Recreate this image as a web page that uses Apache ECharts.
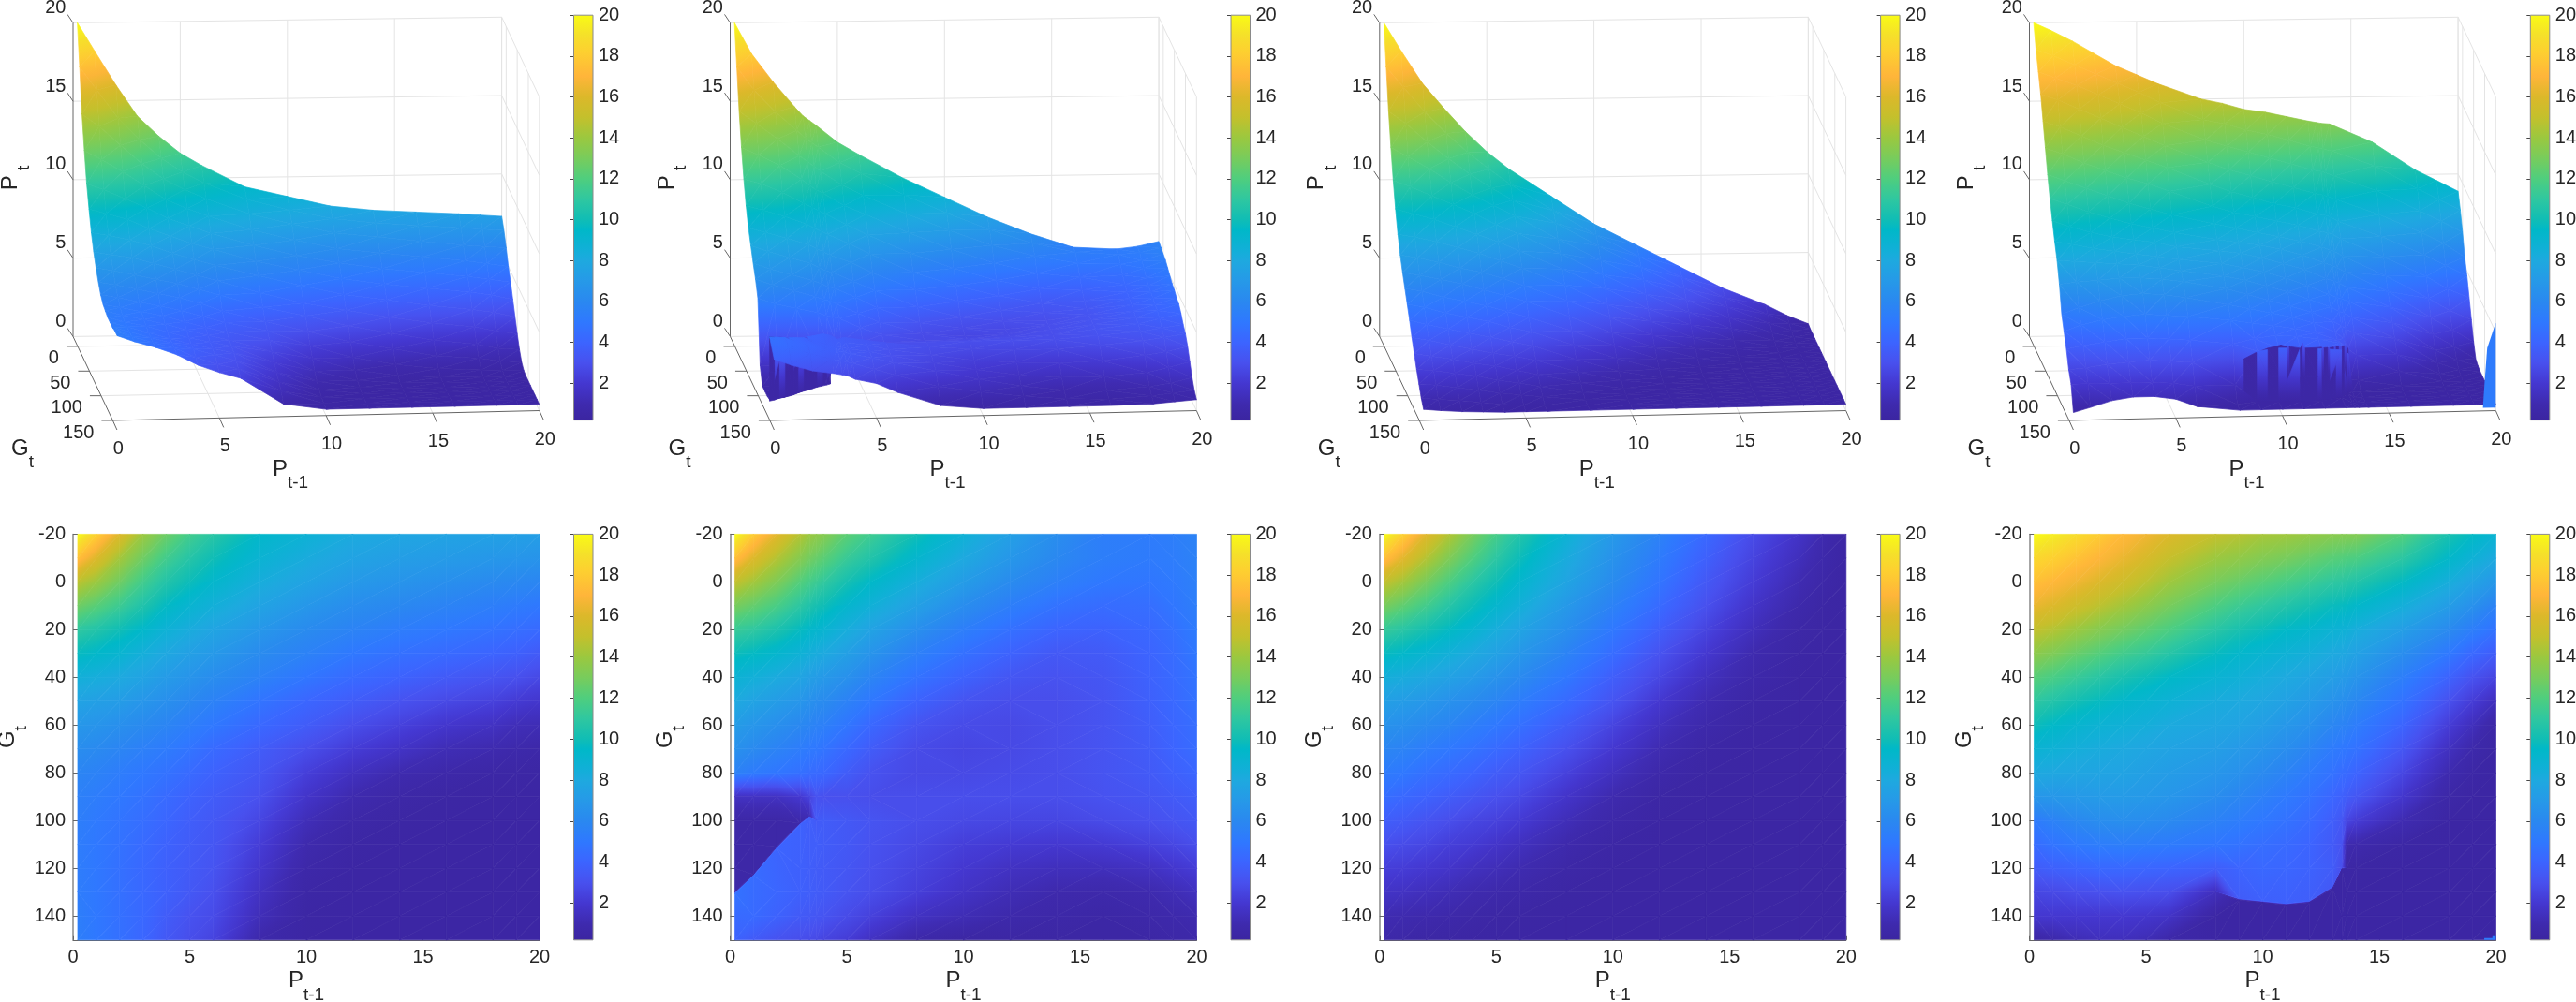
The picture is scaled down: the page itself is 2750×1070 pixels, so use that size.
<!DOCTYPE html>
<html><head><meta charset="utf-8">
<style>html,body{margin:0;padding:0;background:#fff}#c{width:2750px;height:1070px}</style>
<script src="https://cdn.jsdelivr.net/npm/echarts@6/dist/echarts.min.js"></script>
</head><body><div id="c"></div>
<script>
// ---------- colour scale: [value, colour]
const COLORMAP = [[0.2,'#3b25a0'],[1,'#3e2aae'],[2,'#4437d0'],[3,'#4850ee'],[4,'#3c64ff'],[5,'#2f78ff'],[6,'#2a88f0'],[7,'#2699e8'],[8,'#1ea9df'],[8.5,'#12afd8'],[9.5,'#00b8c8'],[10,'#10bdb5'],[11,'#2fc7a0'],[12,'#4fce7e'],[13,'#78cc5c'],[14,'#9bc83f'],[15,'#c4c02c'],[16,'#dcb82a'],[17,'#ffb53a'],[18.2,'#fdd030'],[19,'#f5e02a'],[20,'#f9fb15']];
const BAR_TICKS = [2,4,6,8,10,12,14,16,18,20];
const P_TICKS = [0,5,10,15,20];
const G_TICKS_MAP = [-20,0,20,40,60,80,100,120,140];
const G_TICKS_3D = [0,50,100,150];
const Z_TICKS = [0,5,10,15,20];
const G_ROWS = [-20,-10,0,10,20,30,40,50,60,70,80,90,100,110,120,130,140,150];

// ---------- panel A
const P_A = [0.2,1,2,3,4,5,6,8,10,12,14,16,18,19,20];
const Z_A = [
[20,18.2,16,14,12.7,11.6,10.8,9.4,8.75,8.1,7.8,7.65,7.5,7.4,7.3],
[17.5,16,14.2,12.8,11.6,10.7,10,8.9,8.2,7.6,7.3,7.1,6.9,6.8,6.7],
[14.8,14,12.8,11.6,10.6,9.9,9.3,8.3,7.6,7,6.7,6.4,6.1,6,5.9],
[12.8,12.2,11.4,10.5,9.6,9,8.5,7.6,6.9,6.3,6,5.7,5.4,5.2,5],
[11,10.6,10,9.4,8.7,8.2,7.7,6.9,6.2,5.7,5.3,5,4.7,4.5,4.3],
[9.7,9.4,9,8.4,7.9,7.4,7,6.2,5.6,5,4.6,4.3,4,3.8,3.5],
[8.5,8.3,8,7.6,7.1,6.7,6.3,5.6,4.9,4.3,3.9,3.5,3.2,3,2.7],
[7.6,7.4,7.2,6.8,6.4,6,5.6,4.8,4.1,3.6,3.1,2.7,2.4,2.1,1.9],
[6.9,6.7,6.4,6.1,5.8,5.4,5,4.2,3.6,2.9,2.4,1.9,1.6,1.3,1.2],
[6.3,6.1,5.8,5.5,5.2,4.8,4.3,3.6,2.9,2.2,1.7,1.2,1,0.8,0.7],
[5.8,5.6,5.3,5,4.7,4.3,3.9,3.3,2.3,1.5,1,0.7,0.55,0.5,0.45],
[5.5,5.3,5,4.7,4.3,3.9,3.6,3,1.8,1,0.6,0.45,0.4,0.4,0.4],
[5.4,5.1,4.8,4.5,4.1,3.7,3.4,2.6,1.3,0.65,0.45,0.4,0.4,0.4,0.4],
[5.3,5,4.7,4.3,3.9,3.6,3.3,2.2,0.95,0.5,0.4,0.4,0.4,0.4,0.4],
[5.3,5,4.6,4.2,3.8,3.5,3.2,1.9,0.7,0.42,0.4,0.4,0.4,0.4,0.4],
[5.3,5,4.6,4.2,3.8,3.4,3,1.6,0.55,0.4,0.4,0.4,0.4,0.4,0.4],
[5.4,5,4.6,4.2,3.6,3.1,2.8,1.3,0.45,0.4,0.4,0.4,0.4,0.4,0.4],
[5.4,5,4.6,4.1,3.4,2.9,2.5,0.8,0.4,0.4,0.4,0.4,0.4,0.4,0.4]];

// ---------- panel B
const P_B = [0.2,1,2,3,3.4,3.7,4,5,6,8,10,12,14,16,18,19,20];
const Z_B = [
[20,18,16.2,14.6,14,13.7,13.4,12.3,11.5,10,8.7,7.4,6.3,5.4,5.25,5.4,5.7],
[17.5,16,14.6,13.4,12.9,12.6,12.3,11.3,10.6,9.2,8,6.9,6,5.4,5.2,5.3,5.6],
[15,14.2,13.2,12.1,11.7,11.4,11.1,10.2,9.5,8.3,7.2,6.2,5.5,5,4.9,5.1,5.5],
[13,12.5,11.8,10.9,10.5,10.2,10,9.2,8.6,7.4,6.3,5.4,4.7,4.4,4.5,4.9,5.4],
[11.3,11,10.4,9.7,9.4,9.2,9,8.3,7.6,6.4,5.4,4.6,4,3.9,4.2,4.6,5.2],
[9.9,9.6,9.2,8.7,8.4,8.2,8,7.4,6.7,5.5,4.6,3.9,3.4,3.5,4,4.4,5],
[8.8,8.5,8.1,7.7,7.4,7.2,7,6.5,5.8,4.7,3.9,3.3,3.1,3.3,3.9,4.3,4.8],
[8,7.6,7.2,6.8,6.5,6.3,6.2,5.6,5,3.9,3.2,2.9,2.9,3.2,3.8,4.2,4.7],
[7.2,6.8,6.4,6,5.8,5.6,5.5,4.9,4.2,3.2,2.8,2.7,2.9,3.2,3.7,4.1,4.5],
[6.5,6.1,5.7,5.3,5.1,5,4.8,4.2,3.6,2.8,2.6,2.7,2.9,3.2,3.6,4,4.4],
[5.6,5.2,4.9,4.6,4.4,4.3,4.2,3.6,3.1,2.7,2.7,2.8,2.9,3.2,3.5,3.8,4.1],
[1.6,1.6,1.6,2,2.5,3.1,3,3,2.9,2.9,2.9,2.9,2.9,3.1,3.3,3.5,3.7],
[0.6,0.6,0.6,0.7,1.2,3.5,3.6,3.4,3.2,2.9,2.7,2.6,2.6,2.8,3,3.2,3.4],
[0.6,0.6,0.6,3.9,3.7,3.7,3.6,3.4,3.1,2.7,2.3,2.1,2,2.1,2.4,2.6,2.9],
[0.6,0.6,4,3.8,3.7,3.6,3.5,3.3,3,2.5,2,1.6,1.4,1.4,1.6,1.9,2.2],
[0.7,4.4,4.1,3.8,3.7,3.6,3.5,3.2,2.9,2.3,1.7,1.2,0.9,0.8,1,1.2,1.5],
[4.7,4.3,3.9,3.5,3.4,3.3,3.2,2.8,2.4,1.6,1.2,0.85,0.65,0.55,0.7,0.85,1],
[3.9,3.5,3.1,2.9,2.8,2.7,2.5,2.2,1.6,0.7,0.45,0.45,0.45,0.45,0.5,0.6,0.7]];
// rows moved so one row pair sits on each side of the sharp edge: [column P, row G, actual G]
const CUT_B = [[0.2,130,130],[0.2,140,130.5],[1,120,122.5],[1,130,123],[2,110,111],[2,120,111.5],[3,100,101],[3,110,101.5],[3.4,100,98],[3.4,110,98.5]];
// wall along the edge: [P, G, top height, colour at top]
const WALL_B = [[0.2,130,4.7,1],[0.45,128,4.6,2.4],[0.7,125,4.5,1],[0.95,123,4.4,2.4],[1.2,121,4.3,1],[1.45,118.5,4.2,2.4],[1.7,115,4.1,1],[1.95,112,4,2.4],[2.2,110,3.95,1],[2.45,107,3.9,2.4],[2.7,104,3.85,1],[2.95,102,3.8,2.4],[3.2,100,3.7,1],[3.4,98,3.6,1]];

// ---------- panel C
const P_C = [0.2,1,2,3,4,5,6,8,10,12,14,16,18,19,20];
const Z_C = [
[20,18.2,16.1,14.5,13,11.7,10.6,8.8,7,5.6,4.2,2.8,1.7,1,0.45],
[17.5,16.2,14.6,13.2,12,10.9,9.9,8.2,6.6,5.2,3.8,2.5,1.4,0.8,0.4],
[15,14.2,13,11.9,10.9,10,9.2,7.7,6.2,4.8,3.4,2.2,1.1,0.65,0.4],
[13,12.4,11.6,10.7,9.9,9.2,8.5,7,5.6,4.3,3,1.8,0.8,0.5,0.4],
[11.2,10.8,10.2,9.6,9,8.3,7.7,6.4,5,3.7,2.5,1.4,0.6,0.45,0.4],
[9.7,9.4,9,8.5,8,7.5,6.9,5.7,4.4,3.1,2,1,0.5,0.4,0.4],
[8.4,8.2,7.9,7.5,7.1,6.6,6.1,5,3.7,2.6,1.5,0.75,0.42,0.4,0.4],
[7.4,7.2,6.9,6.5,6.2,5.8,5.3,4.3,3.2,2,1.1,0.55,0.4,0.4,0.4],
[6.6,6.4,6.1,5.8,5.4,5,4.6,3.6,2.5,1.5,0.8,0.45,0.4,0.4,0.4],
[5.9,5.7,5.3,5,4.7,4.3,3.9,3,2,1.1,0.55,0.4,0.4,0.4,0.4],
[5.2,5,4.6,4.3,4,3.6,3.3,2.4,1.5,0.75,0.45,0.4,0.4,0.4,0.4],
[4.5,4.2,3.9,3.6,3.3,3,2.7,1.8,1,0.5,0.4,0.4,0.4,0.4,0.4],
[3.7,3.5,3.2,2.9,2.6,2.4,2.1,1.3,0.7,0.42,0.4,0.4,0.4,0.4,0.4],
[3,2.8,2.6,2.3,2.1,1.8,1.5,0.9,0.5,0.4,0.4,0.4,0.4,0.4,0.4],
[2.3,2.2,2,1.8,1.5,1.3,1.05,0.6,0.42,0.4,0.4,0.4,0.4,0.4,0.4],
[1.7,1.6,1.4,1.2,1,0.85,0.7,0.45,0.4,0.4,0.4,0.4,0.4,0.4,0.4],
[1.1,1,0.9,0.75,0.6,0.5,0.45,0.4,0.4,0.4,0.4,0.4,0.4,0.4,0.4],
[0.7,0.6,0.5,0.45,0.4,0.4,0.4,0.4,0.4,0.4,0.4,0.4,0.4,0.4,0.4]];

// ---------- panel D
const P_D = [0.2,1,2,3,4,5,6,8,9,10,11,12,13,13.4,13.6,14,16,18,19,20];
const Z_D = [
[20,19.5,18.8,18,17.2,16.6,16,15,14.7,14.3,14.1,13.8,13.5,13.4,13.35,13.3,12.1,10.3,9.6,8.9],
[18.6,18.2,17.6,17,16.4,15.8,15.1,14,13.7,13.3,13,12.6,12.2,12.1,12,11.9,10.9,9.4,8.7,8],
[17.5,17.1,16.6,16,15.4,14.8,14.1,13,12.6,12.2,11.8,11.4,11,10.9,10.8,10.6,9.6,8.3,7.6,6.9],
[16.4,16,15.4,14.8,14.2,13.6,13,11.9,11.4,11,10.6,10.2,9.8,9.7,9.6,9.4,8.4,7.2,6.5,5.6],
[15,14.6,14,13.4,12.9,12.4,11.9,10.8,10.3,9.9,9.5,9.2,8.8,8.7,8.6,8.3,7.3,6.1,5.4,4.7],
[13.6,13.2,12.6,12.1,11.6,11.2,10.7,9.7,9.3,9,8.7,8.4,8,7.9,7.8,7.5,6.3,5,4.2,3.6],
[12.2,11.8,11.3,10.8,10.3,9.9,9.5,8.9,8.6,8.3,8,7.7,7.3,7.1,7,6.7,5.4,3.9,3.1,2.5],
[11,10.6,10.1,9.7,9.3,9,8.7,8.2,8,7.8,7.5,7.1,6.6,6.4,6.3,6,4.7,3,2.2,1.4],
[9.9,9.5,9.1,8.8,8.6,8.4,8.1,7.8,7.6,7.3,6.9,6.5,5.9,5.7,5.6,5.3,4,2.2,1.4,0.6],
[8.9,8.7,8.4,8.2,8,7.8,7.6,7.3,7,6.7,6.3,5.8,5.2,5,4.9,4.7,3.3,1.5,0.85,0.45],
[8,7.9,7.8,7.7,7.6,7.4,7.2,6.8,6.5,6.1,5.7,5.2,4.7,4.4,4.3,4,2.6,1,0.55,0.4],
[6.8,6.9,7,7.1,7.1,7,6.8,6.3,5.9,5.5,5.1,4.7,4.1,3.8,3.6,3.3,1.9,0.6,0.42,0.4],
[5.2,5.6,6,6.3,6.4,6.3,6.1,5.6,5.3,5,4.7,4.3,3.7,3.3,2.6,2.2,1.1,0.42,0.4,0.4],
[4.4,4.8,5.1,5.3,5.4,5.3,5.2,4.9,4.7,4.5,4.3,4,3.5,3.1,1,0.9,0.5,0.4,0.4,0.4],
[3.6,3.8,4,4.2,4.2,4.1,4,3.7,4,4.2,4.1,3.9,3.6,2.9,0.5,0.45,0.4,0.4,0.4,0.4],
[2.6,2.7,2.9,3,3.1,3,2.9,1.4,3.6,3.8,3.8,3.7,3.4,0.4,0.4,0.4,0.4,0.4,0.4,0.4],
[2,2,2,2,2,1.9,1.7,0.45,0.4,0.4,0.4,0.4,0.4,0.4,0.4,0.4,0.4,0.4,0.4,0.4],
[0.5,0.8,1.2,1.4,1.4,1.2,0.7,0.4,0.4,0.4,0.4,0.4,0.4,0.4,0.4,0.4,0.4,0.4,0.4,0.4]];
const CUT_D = [[9,130,132.7],[9,140,133.3],[10,130,133.7],[10,140,134.3],[11,130,134.7],[11,140,135.3],[12,130,133.7],[12,140,134.3],[13,130,127.7],[13,140,128.3],[13.4,120,119.7],[13.4,130,120.3]];
const WALL_D = [[8.4,131.5,3.1,0.6],[8.9,133,3.5,0.6],[9.5,133.5,3.8,0.6],[10.1,134,4,0.7],[10.4,134.3,3.9,2.8],[10.5,134.4,3.9,0.7],[11,135,3.8,0.7],[11.1,135,4.1,3],[11.2,135,3.8,0.7],[11.8,134.5,3.8,0.7],[12,134,3.8,2.8],[12.1,133.7,3.75,0.7],[12.3,133,3.75,2.8],[12.4,132,3.7,0.7],[12.6,131,3.7,2.8],[12.7,130,3.7,0.7],[12.85,129,3.7,2.8],[13,128,3.65,0.7],[13.15,125,3.6,2.8],[13.3,122,3.5,0.7],[13.4,120,3.2,0.7]];
// small bright corner of panel D: colour value and outline in (P,G,height) and in (P,G)
const CORNER_VALUE_D = 5.2;
const CORNER_3D_D = [[19.4,150,0.2],[19.47,150,1.65],[19.6,150,4],[20,150,5.6],[20,150,0.2]];
const CORNER_MAP_D = [[19.5,150],[19.5,149.2],[19.85,149.2],[19.85,148],[20,148],[20,150]];

const PANELS = [
 {P:P_A,Z:Z_A,cut:[],wall:[],left:78,bar:612.5},
 {P:P_B,Z:Z_B,cut:CUT_B,wall:WALL_B,wallLow:0.6,left:779.5,bar:1314},
 {P:P_C,Z:Z_C,cut:[],wall:[],left:1472.8,bar:2007.6},
 {P:P_D,Z:Z_D,cut:CUT_D,wall:WALL_D,wallLow:0.4,left:2166.5,bar:2701.3,corner3d:CORNER_3D_D,cornerMap:CORNER_MAP_D,cornerValue:CORNER_VALUE_D}
];

// ---------- helpers
const FONT='Liberation Sans', INK='#262626';
const knots=COLORMAP.map(([v,c])=>[v,parseInt(c.slice(1,3),16),parseInt(c.slice(3,5),16),parseInt(c.slice(5,7),16)]);
function col(v){
  if(v<=knots[0][0])return `rgb(${knots[0][1]},${knots[0][2]},${knots[0][3]})`;
  for(let i=1;i<knots.length;i++){ if(v<=knots[i][0]){const a=knots[i-1],b=knots[i],t=(v-a[0])/(b[0]-a[0]);
    return `rgb(${Math.round(a[1]+t*(b[1]-a[1]))},${Math.round(a[2]+t*(b[2]-a[2]))},${Math.round(a[3]+t*(b[3]-a[3]))})`;}}
  const k=knots[knots.length-1];return `rgb(${k[1]},${k[2]},${k[3]})`;
}
function shade(pts,vals){
  const [p0,p1,p2]=pts,[a,b,c]=vals;
  const det=(p1[0]-p0[0])*(p2[1]-p0[1])-(p2[0]-p0[0])*(p1[1]-p0[1]);
  const vmin=Math.min(a,b,c),vmax=Math.max(a,b,c);
  if(Math.abs(det)<0.6) return {fill:col((a+b+c)/3),sliver:true};
  if(vmax-vmin<0.02) return {fill:col((a+b+c)/3)};
  const gx=((b-a)*(p2[1]-p0[1])-(c-a)*(p1[1]-p0[1]))/det;
  const gy=((c-a)*(p1[0]-p0[0])-(b-a)*(p2[0]-p0[0]))/det;
  const g2=gx*gx+gy*gy; const s=(vmax-vmin)/g2;
  const pm=pts[vals.indexOf(vmin)];
  const n=Math.max(2,Math.ceil((vmax-vmin)/0.5)+1),stops=[];
  for(let i=0;i<n;i++){const t=i/(n-1);stops.push({offset:t,color:col(vmin+t*(vmax-vmin))});}
  return {fill:{type:'linear',global:true,x:pm[0],y:pm[1],x2:pm[0]+gx*s,y2:pm[1]+gy*s,colorStops:stops}};
}
function meshCells(pn){
  const gAt=(r,c)=>{const hit=pn.cut.find(k=>k[0]===pn.P[c]&&k[1]===G_ROWS[r]);return hit?hit[2]:G_ROWS[r];};
  const out=[];
  for(let r=0;r<G_ROWS.length-1;r++)for(let c=0;c<pn.P.length-1;c++){
    const v=(rr,cc)=>({p:pn.P[cc],g:gAt(rr,cc),z:pn.Z[rr][cc]});
    const A=v(r,c),B=v(r,c+1),C=v(r+1,c+1),D=v(r+1,c);
    const tr=Math.abs(B.z-D.z)<=Math.abs(A.z-C.z)?[[A,B,D],[B,C,D]]:[[A,B,C],[A,C,D]];
    tr.forEach(t=>out.push({kind:'tri',v:t,key:(t[0].g+t[1].g+t[2].g)/3}));
  }
  return out;
}
// 3D view: floor corners and height scale of the MATLAB box
const BL=[0,359.4],BR=[457.6,353.3],FL=[42.4,449],FR=[497.8,438.5],H=16.75;
function proj(p,g,z){
  const u=p/20,v=(g+20)/170;
  const bx=BL[0]+(BR[0]-BL[0])*u,by=BL[1]+(BR[1]-BL[1])*u,fx=FL[0]+(FR[0]-FL[0])*u,fy=FL[1]+(FR[1]-FL[1])*u;
  return [bx+(fx-bx)*v,by+(fy-by)*v-z*H];
}
const baseText={fontFamily:FONT,fontSize:20,fill:INK};
function subLabel(a,b){return {text:`{a|${a}}{b|${b}}`,align:'center',verticalAlign:'middle',rich:{
  a:{fontFamily:FONT,fontSize:24,fill:INK,color:INK,lineHeight:36,verticalAlign:'top'},
  b:{fontFamily:FONT,fontSize:19,fill:INK,color:INK,lineHeight:36,verticalAlign:'bottom'}}};}
function frameItems(){
  const L='#e4e4e4',D='#666',it=[];
  const ln=(a,b,c,w)=>it.push({t:'l',a,b,c,w:w||1});
  Z_TICKS.forEach(z=>{ln(proj(0,-20,z),proj(20,-20,z),L);ln(proj(20,-20,z),proj(20,150,z),L);});
  [5,10,15,20].forEach(p=>ln(proj(p,-20,0),proj(p,-20,20),L));
  [-20].concat(G_TICKS_3D).forEach(g=>ln(proj(20,g,0),proj(20,g,20),L));
  [5,10,15].forEach(p=>ln(proj(p,-20,0),proj(p,150,0),L));
  G_TICKS_3D.forEach(g=>ln(proj(0,g,0),proj(20,g,0),g===150?D:L));
  ln(proj(0,-20,0),proj(0,-20,20),D); ln(proj(0,-20,0),proj(0,150,0),D);
  Z_TICKS.forEach(z=>{const q=proj(0,-20,z);ln(q,[q[0]-6,q[1]-9],D);
    it.push({t:'x',at:[q[0]-7.6,q[1]-16],s:String(z),align:'right'});});
  G_TICKS_3D.forEach(g=>{const q=proj(0,g,0);ln(q,[q[0]-12,q[1]],D);
    it.push({t:'x',at:[q[0]-20,q[1]+13],s:String(g),align:'right'});});
  P_TICKS.forEach(p=>{const q=proj(p,150,0);ln(q,[q[0]+4.5,q[1]+10],D);
    it.push({t:'x',at:[q[0]+6,q[1]+30.5],s:String(p),align:'center'});});
  it.push({t:'n',at:[232,507],a:'P',b:'t-1',rot:0});
  it.push({t:'n',at:[-54,485],a:'G',b:'t',rot:0});
  it.push({t:'n',at:[-61,190],a:'P',b:' t',rot:Math.PI/2});
  return it;
}
function surfaceItems(pn){
  const items=meshCells(pn);
  const low=pn.wallLow;
  pn.wall.slice(0,-1).forEach((w,i)=>{
    const n=pn.wall[i+1],k=(w[1]+n[1])/2+0.05;
    const a={p:w[0],g:w[1]},b={p:n[0],g:n[1]};
    const quad=(z0a,z0b,z1a,z1b,c0,c1)=>{
      const v=[proj(a.p,a.g,z0a),proj(b.p,b.g,z0b),proj(b.p,b.g,z1b),proj(a.p,a.g,z1a)];
      items.push({kind:'raw',pts:[v[0],v[1],v[3]],c:[c0,c0,c1],key:k});
      items.push({kind:'raw',pts:[v[1],v[2],v[3]],c:[c0,c1,c1],key:k});
    };
    const ma=low+(w[2]-low)*0.45,mb=low+(n[2]-low)*0.45;
    quad(low,low,ma,mb,0.5,0.55);
    quad(ma,mb,w[2],n[2],0.55,w[3]);
  });
  if(pn.corner3d) items.push({kind:'poly',pts:pn.corner3d.map(q=>proj(q[0],q[1],q[2])),c:pn.cornerValue,key:1000});
  items.sort((x,y)=>x.key-y.key);
  return items;
}

// ---------- option
const grids=[],xAxes=[],yAxes=[],series=[];
function addGrid(g,x,y){grids.push(Object.assign({outerBoundsMode:'none'},g));xAxes.push(Object.assign({gridIndex:grids.length-1},x));yAxes.push(Object.assign({gridIndex:grids.length-1},y));return grids.length-1;}
const ROW_TOP={top:16.2,h:432.4},ROW_MAP={top:570.4,h:433.4};

function addBar(left,row){
  const i=addGrid({left,top:row.top,width:20.5,height:row.h},
   {type:'value',min:0,max:1,show:false},
   {type:'value',min:0.2,max:20,position:'right',axisLine:{show:false},splitLine:{show:false},
    axisTick:{show:true,inside:true,length:4,lineStyle:{color:'#444'},customValues:BAR_TICKS},
    axisLabel:{show:true,margin:6,fontFamily:FONT,fontSize:20,color:INK,customValues:BAR_TICKS}});
  const stops=COLORMAP.map(([v,c])=>({offset:(v-0.2)/19.8,color:c}));
  series.push({type:'custom',xAxisIndex:i,yAxisIndex:i,coordinateSystem:'cartesian2d',silent:true,animation:false,z:1,data:[[0,0.2]],
    renderItem:(p,api)=>{const a=api.coord([0,20]),b=api.coord([1,0.2]);
      return {type:'rect',shape:{x:a[0],y:a[1],width:b[0]-a[0],height:b[1]-a[1]},
        style:{fill:{type:'linear',x:0,y:1,x2:0,y2:0,colorStops:stops},stroke:'#8a8a8a',lineWidth:1}};}});
}

PANELS.forEach(pn=>{
  // ---- 3D panel
  const i=addGrid({left:pn.left,top:0,width:498,height:520},{type:'value',min:0,max:498,show:false},{type:'value',min:0,max:520,inverse:true,show:false});
  const frame=frameItems();
  series.push({type:'custom',xAxisIndex:i,yAxisIndex:i,coordinateSystem:'cartesian2d',silent:true,animation:false,clip:false,z:2,progressive:0,
    data:frame.map((f,k)=>[k,0]),
    renderItem:(p,api)=>{const f=frame[p.dataIndex];
      if(f.t==='l'){const a=api.coord(f.a),b=api.coord(f.b);return {type:'line',shape:{x1:a[0],y1:a[1],x2:b[0],y2:b[1]},style:{stroke:f.c,lineWidth:f.w}};}
      const q=api.coord(f.at);
      if(f.t==='x')return {type:'text',x:q[0],y:q[1],style:Object.assign({},baseText,{text:f.s,align:f.align,verticalAlign:'middle'})};
      return {type:'text',x:q[0],y:q[1],rotation:f.rot,style:Object.assign({},subLabel(f.a,f.b))};
    }});
  const surf=surfaceItems(pn);
  series.push({type:'custom',xAxisIndex:i,yAxisIndex:i,coordinateSystem:'cartesian2d',silent:true,animation:false,clip:false,z:3,progressive:0,
    data:surf.map((s,k)=>[k,0]),
    renderItem:(p,api)=>{const s=surf[p.dataIndex];
      if(s.kind==='poly')return {type:'polygon',shape:{points:s.pts.map(q=>api.coord(q))},style:{fill:col(s.c)}};
      let pts,vals;
      if(s.kind==='tri'){pts=s.v.map(q=>api.coord(proj(q.p,q.g,q.z)));vals=s.v.map(q=>q.z);}
      else{pts=s.pts.map(q=>api.coord(q));vals=s.c;}
      const sh=shade(pts,vals);
      return {type:'polygon',shape:{points:pts},style:{fill:sh.fill,stroke:sh.sliver?null:sh.fill,lineWidth:0.7}};
    }});
  addBar(pn.bar,ROW_TOP);

  // ---- map panel
  const j=addGrid({left:pn.left,top:ROW_MAP.top,width:498,height:ROW_MAP.h},
   {type:'value',min:0,max:20,interval:5,splitLine:{show:false},
    name:'{a|P}{b|t-1}',nameLocation:'middle',nameGap:32,
    nameTextStyle:{rich:{a:{fontFamily:FONT,fontSize:24,color:INK,lineHeight:36,verticalAlign:'top'},b:{fontFamily:FONT,fontSize:19,color:INK,lineHeight:36,verticalAlign:'bottom'}}},
    axisLine:{onZero:false,lineStyle:{color:'#666',width:1}},axisTick:{inside:true,length:5,lineStyle:{color:'#666'}},
    axisLabel:{margin:9,fontFamily:FONT,fontSize:20,color:INK,customValues:P_TICKS}},
   {type:'value',min:-20,max:150,interval:20,inverse:true,splitLine:{show:false},
    name:'{a|G}{b|t}',nameLocation:'middle',nameGap:42,nameRotate:90,
    nameTextStyle:{rich:{a:{fontFamily:FONT,fontSize:24,color:INK,lineHeight:36,verticalAlign:'top'},b:{fontFamily:FONT,fontSize:19,color:INK,lineHeight:36,verticalAlign:'bottom'}}},
    axisLine:{onZero:false,lineStyle:{color:'#888',width:1.5}},axisTick:{inside:true,length:5,lineStyle:{color:'#666'},customValues:G_TICKS_MAP},
    axisLabel:{margin:8,fontFamily:FONT,fontSize:20,color:INK,customValues:G_TICKS_MAP}});
  const cells=meshCells(pn);
  if(pn.cornerMap)cells.push({kind:'poly',pts:pn.cornerMap,c:pn.cornerValue,key:1000});
  series.push({type:'custom',xAxisIndex:j,yAxisIndex:j,coordinateSystem:'cartesian2d',silent:true,animation:false,clip:false,z:3,progressive:0,
    data:cells.map((s,k)=>[k,0]),
    renderItem:(p,api)=>{const s=cells[p.dataIndex];
      if(s.kind==='poly')return {type:'polygon',shape:{points:s.pts.map(q=>api.coord(q))},style:{fill:col(s.c)}};
      const pts=s.v.map(q=>api.coord([q.p,q.g])),vals=s.v.map(q=>q.z);
      const sh=shade(pts,vals);
      return {type:'polygon',shape:{points:pts},style:{fill:sh.fill,stroke:sh.sliver?null:sh.fill,lineWidth:0.7}};
    }});
  addBar(pn.bar,ROW_MAP);
});

const chart=echarts.init(document.getElementById('c'),null,{renderer:'canvas',width:2750,height:1070});
chart.setOption({animation:false,backgroundColor:'#fff',grid:grids,xAxis:xAxes,yAxis:yAxes,series});
</script></body></html>
